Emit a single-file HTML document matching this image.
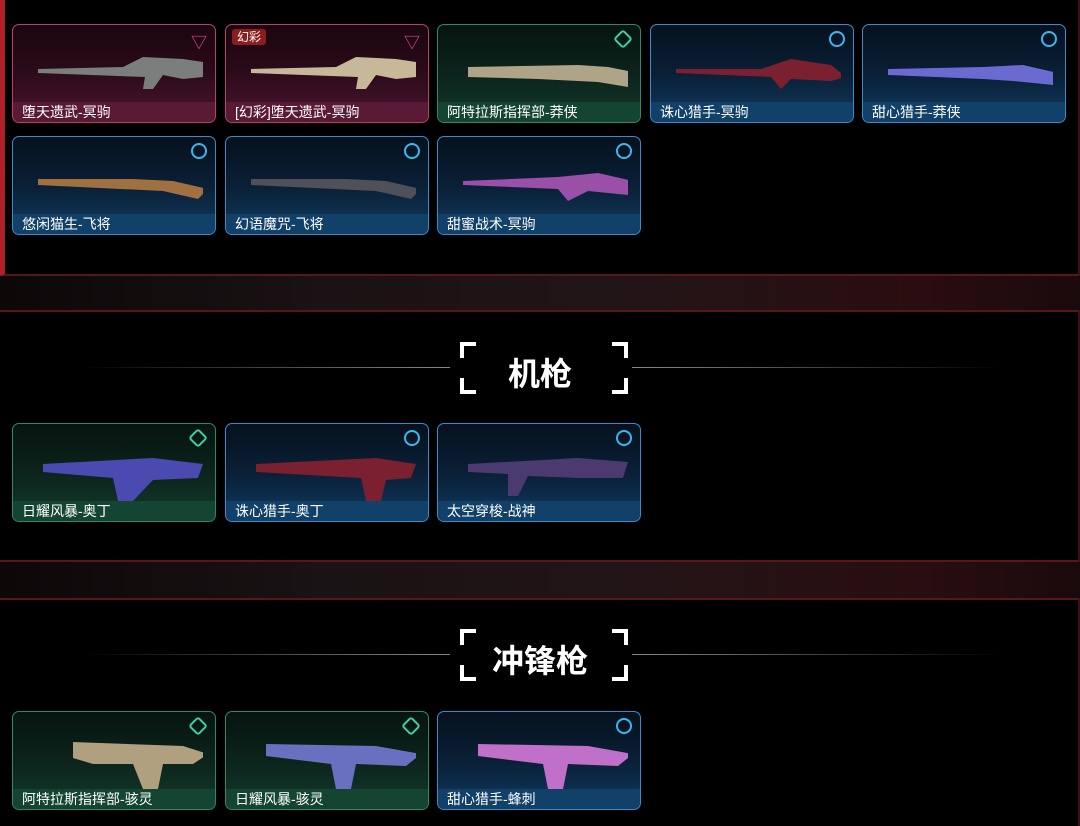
<!DOCTYPE html><html><head><meta charset="utf-8"><style>
html,body{margin:0;width:1080px;height:826px;overflow:hidden}
body{background:#050304;position:relative;font-family:"Liberation Sans","Noto Sans CJK SC",sans-serif}
.band{position:absolute;left:0;width:1080px;background:linear-gradient(90deg,#0c0808,#1a1214 30%,#221416 60%,#2a0d10 85%,#1a0a0c)}
.panel{position:absolute;left:0;width:1078px;background:#000;border-top:2px solid #5a1518;border-bottom:2px solid #5a1518;border-right:2px solid #3a1012}
.card{position:absolute;width:204px;height:99px;border-radius:7px;box-sizing:border-box;overflow:hidden}
.card .lab{position:absolute;left:0;right:0;bottom:0;height:20px;color:#fff;font-size:14px;line-height:20px;padding-left:9px}
.p{border:1.5px solid #b8406a;background:linear-gradient(180deg,#1a0610 0%,#2a0a18 45%,#4a1530 100%)}
.p .lab{background:#5a1a36}
.g{border:1.5px solid #2e8a66;background:linear-gradient(180deg,#07140f 0%,#0c231c 50%,#123a2c 100%)}
.g .lab{background:#134532}
.b{border:1.5px solid #3a8cc8;background:linear-gradient(180deg,#06111e 0%,#0a1f36 50%,#103a5e 100%)}
.b .lab{background:#114068}
.ic{position:absolute;right:8px;top:6px;width:12px;height:12px;border-radius:50%;border:2.5px solid #3ab8f0}
.g .ic{border-radius:3px;transform:rotate(45deg);border-color:#40d0a0;width:10px;height:10px;right:10px;top:7px}
.tri{position:absolute;right:8px;top:4px;color:#e04a9a;font-size:16px}
.gun{position:absolute;left:20px;top:22px}
.title{position:absolute;left:0;width:1080px;text-align:center;color:#fff;font-weight:bold;font-size:32px}
.line{position:absolute;height:1px}
.br{position:absolute;width:12px;height:12px;border:4px solid #fff}
</style></head><body>
<div class="band" style="top:272px;height:40px"></div>
<div class="band" style="top:560px;height:40px"></div>
<div class="panel" style="top:-2px;height:274px;border-left:5px solid #b02028;width:1073px"></div>
<div class="panel" style="top:310px;height:248px"></div>
<div class="panel" style="top:598px;height:240px;border-bottom:none"></div>

<div class="line" style="left:80px;top:367px;width:370px;background:linear-gradient(90deg,#000,#888)"></div>
<div class="line" style="left:632px;top:367px;width:370px;background:linear-gradient(90deg,#888,#000)"></div>
<div class="br" style="left:460px;top:342px;border-right:none;border-bottom:none"></div>
<div class="br" style="left:612px;top:342px;border-left:none;border-bottom:none"></div>
<div class="br" style="left:460px;top:378px;border-right:none;border-top:none"></div>
<div class="br" style="left:612px;top:378px;border-left:none;border-top:none"></div>
<div class="title" style="top:349px">机枪</div>

<div class="line" style="left:80px;top:654px;width:370px;background:linear-gradient(90deg,#000,#888)"></div>
<div class="line" style="left:632px;top:654px;width:370px;background:linear-gradient(90deg,#888,#000)"></div>
<div class="br" style="left:460px;top:629px;border-right:none;border-bottom:none"></div>
<div class="br" style="left:612px;top:629px;border-left:none;border-bottom:none"></div>
<div class="br" style="left:460px;top:665px;border-right:none;border-top:none"></div>
<div class="br" style="left:612px;top:665px;border-left:none;border-top:none"></div>
<div class="title" style="top:636px">冲锋枪</div>

<div class="card p" style="left:12px;top:24px"><span class="tri">▽</span><svg class="gun" width="170" height="50"><polygon points="5,22 90,20 110,10 150,12 170,15 170,30 150,32 130,28 120,42 110,42 112,30 5,26" fill="#7a7e7c"/></svg><div class="lab">堕天遗武-冥驹</div></div>
<div class="card p" style="left:225px;top:24px"><span style="position:absolute;left:6px;top:4px;background:#8a1e1e;color:#fff;font-size:12px;padding:0 5px;border-radius:3px;line-height:16px">幻彩</span><span class="tri">▽</span><svg class="gun" width="170" height="50"><polygon points="5,22 90,20 110,10 150,12 170,15 170,30 150,32 130,28 120,42 110,42 112,30 5,26" fill="#c8b89a"/></svg><div class="lab">[幻彩]堕天遗武-冥驹</div></div>
<div class="card g" style="left:437px;top:24px"><span class="ic"></span><svg class="gun" width="170" height="50"><polygon points="10,20 120,18 150,20 175,25 170,40 140,35 80,32 10,30" fill="#b0a488"/></svg><div class="lab">阿特拉斯指挥部-莽侠</div></div>
<div class="card b" style="left:650px;top:24px"><span class="ic"></span><svg class="gun" width="170" height="50"><polygon points="5,22 90,22 120,12 160,18 175,30 160,34 120,32 110,42 100,30 5,26" fill="#7a2030"/></svg><div class="lab">诛心猎手-冥驹</div></div>
<div class="card b" style="left:862px;top:24px"><span class="ic"></span><svg class="gun" width="170" height="50"><polygon points="5,22 100,20 140,18 175,26 170,38 130,34 100,32 5,28" fill="#6a6ad0"/></svg><div class="lab">甜心猎手-莽侠</div></div>

<div class="card b" style="left:12px;top:136px"><span class="ic"></span><svg class="gun" width="170" height="50"><polygon points="5,20 100,20 140,22 175,30 165,40 130,32 5,26" fill="#a07040"/></svg><div class="lab">悠闲猫生-飞将</div></div>
<div class="card b" style="left:225px;top:136px"><span class="ic"></span><svg class="gun" width="170" height="50"><polygon points="5,20 100,20 140,22 175,30 165,40 130,32 5,26" fill="#505058"/></svg><div class="lab">幻语魔咒-飞将</div></div>
<div class="card b" style="left:437px;top:136px"><span class="ic"></span><svg class="gun" width="170" height="50"><polygon points="5,22 100,18 140,14 175,22 170,36 130,32 110,42 100,30 5,26" fill="#9a50a8"/></svg><div class="lab">甜蜜战术-冥驹</div></div>

<div class="card g" style="left:12px;top:423px"><span class="ic"></span><svg class="gun" width="170" height="60"><polygon points="10,18 120,12 170,18 165,32 120,34 100,55 85,55 80,32 10,26" fill="#4a4ab0"/></svg><div class="lab">日耀风暴-奥丁</div></div>
<div class="card b" style="left:225px;top:423px"><span class="ic"></span><svg class="gun" width="170" height="60"><polygon points="10,18 130,12 170,18 165,32 140,34 135,55 120,55 115,32 10,26" fill="#7a2030"/></svg><div class="lab">诛心猎手-奥丁</div></div>
<div class="card b" style="left:437px;top:423px"><span class="ic"></span><svg class="gun" width="170" height="60"><polygon points="10,18 120,12 170,16 165,32 120,32 70,30 60,50 50,50 50,28 10,26" fill="#4a3a70"/></svg><div class="lab">太空穿梭-战神</div></div>

<div class="card g" style="left:12px;top:711px"><span class="ic"></span><svg class="gun" width="170" height="60"><polygon points="40,8 150,12 175,20 160,30 130,30 125,55 110,55 100,30 60,30 40,24" fill="#b0a080"/></svg><div class="lab">阿特拉斯指挥部-骇灵</div></div>
<div class="card g" style="left:225px;top:711px"><span class="ic"></span><svg class="gun" width="170" height="60"><polygon points="20,10 130,12 175,20 160,32 110,30 105,55 90,55 85,30 20,22" fill="#6a70c0"/></svg><div class="lab">日耀风暴-骇灵</div></div>
<div class="card b" style="left:437px;top:711px"><span class="ic"></span><svg class="gun" width="170" height="60"><polygon points="20,10 130,12 175,20 160,32 110,30 105,55 90,55 85,30 20,22" fill="#c070c8"/></svg><div class="lab">甜心猎手-蜂刺</div></div>
</body></html>
